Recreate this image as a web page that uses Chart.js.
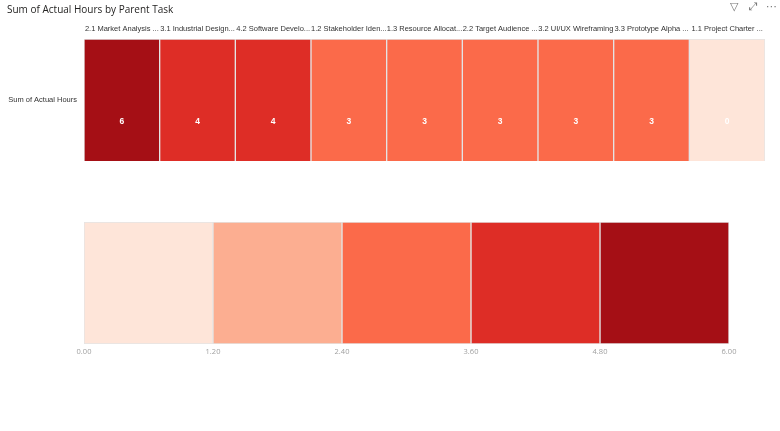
<!DOCTYPE html>
<html>
<head>
    <title>Sum of Actual Hours by Parent Task</title>
    <script src="https://cdn.jsdelivr.net/npm/chart.js"></script>
    <style>
        body { margin: 0; background: #fff; }
        #wrap { position: relative; width: 780px; height: 431px; overflow: hidden; }
        #title { position: absolute; left: 7px; top: 2px; font: 10px "Open Sans", sans-serif; color: #252423; }
        .icon { position: absolute; top: 0px; font: 11px "DejaVu Sans", sans-serif; color: #777; }
        .box { position: absolute; left: 0; top: 0; width: 780px; height: 431px; }
    </style>
</head>
<body>
<div id="wrap">
    <div class="box"><canvas id="heat"></canvas></div>
    <div class="box"><canvas id="scale"></canvas></div>
    <div id="title">Sum of Actual Hours by Parent Task</div>
    <span class="icon" style="left:730px">▽</span>
    <span class="icon" style="left:749px">⤢</span>
    <span class="icon" style="left:766px">⋯</span>
</div>
<script>
    // data
    const tasks = ['2.1 Market Analysis ...', '3.1 Industrial Design...', '4.2 Software Develo...',
        '1.2 Stakeholder Iden...', '1.3 Resource Allocat...', '2.2 Target Audience ...',
        '3.2 UI/UX Wireframing', '3.3 Prototype Alpha ...', '1.1 Project Charter ...'];
    const hours = [6, 4, 4, 3, 3, 3, 3, 3, 0];
    const rowLabel = 'Sum of Actual Hours';
    const binEdges = [0, 1.2, 2.4, 3.6, 4.8, 6];
    const binColors = ['#fee5d9', '#fcae91', '#fb6a4a', '#de2d26', '#a50f15'];

    function colorFor(v) {
        for (let i = 0; i < binColors.length; i++) {
            if (v < binEdges[i + 1] || i === binColors.length - 1) return binColors[i];
        }
    }

    const valueLabels = {
        id: 'valueLabels',
        afterDatasetsDraw(chart) {
            const ctx = chart.ctx;
            const meta = chart.getDatasetMeta(0);
            ctx.save();
            ctx.fillStyle = '#fff';
            ctx.font = 'bold 8.5px "Liberation Sans", Arial, sans-serif';
            ctx.textAlign = 'center';
            ctx.textBaseline = 'middle';
            meta.data.forEach((bar, i) => {
                const top = Math.min(bar.y, bar.base), h = Math.abs(bar.base - bar.y);
                ctx.fillText(String(hours[i]), bar.x, top + h * 0.68);
            });
            ctx.restore();
        }
    };

    Chart.defaults.animation = false;
    Chart.defaults.responsive = true;
    Chart.defaults.maintainAspectRatio = false;

    new Chart(document.getElementById('heat'), {
        type: 'bar',
        data: {
            labels: tasks,
            datasets: [{
                data: hours.map(() => 1),
                backgroundColor: hours.map(colorFor),
                borderColor: '#e4e4e4',
                borderWidth: 1,
                categoryPercentage: 1,
                barPercentage: 1
            }]
        },
        options: {
            layout: { padding: { left: 0, top: 0, right: 15, bottom: 270 } },
            plugins: { legend: { display: false }, tooltip: { enabled: false } },
            scales: {
                x: {
                    position: 'top',
                    grid: { display: false, drawTicks: false },
                    border: { display: false },
                    afterFit(s) { s.height = 39; },
                    ticks: {
                        autoSkip: false, maxRotation: 0, minRotation: 0, padding: 6,
                        color: '#333', font: { size: 7.5, family: '"Liberation Sans", Arial, sans-serif' }
                    }
                },
                y: {
                    min: 0, max: 1,
                    grid: { display: false, drawTicks: false },
                    border: { display: false },
                    afterFit(s) { s.width = 84; },
                    afterBuildTicks(s) { s.ticks = [{ value: 0.5 }]; },
                    ticks: {
                        padding: 7, color: '#333',
                        font: { size: 7.5, family: '"Liberation Sans", Arial, sans-serif' },
                        callback: () => rowLabel
                    }
                }
            }
        },
        plugins: [valueLabels]
    });

    new Chart(document.getElementById('scale'), {
        type: 'bar',
        data: {
            labels: ['range'],
            datasets: binColors.map((c, i) => ({
                data: [[binEdges[i], binEdges[i + 1]]],
                backgroundColor: c,
                borderColor: '#e4e4e4',
                borderWidth: 1,
                borderSkipped: false,
                grouped: false,
                categoryPercentage: 1,
                barPercentage: 1
            }))
        },
        options: {
            indexAxis: 'y',
            layout: { padding: { left: 84, top: 222, right: 51, bottom: 0 } },
            plugins: { legend: { display: false }, tooltip: { enabled: false } },
            scales: {
                x: {
                    type: 'linear', min: 0, max: 6,
                    grid: { display: false, drawTicks: false },
                    border: { display: false },
                    afterFit(s) { s.height = 87; },
                    afterBuildTicks(s) { s.ticks = binEdges.map(v => ({ value: v })); },
                    ticks: {
                        padding: 3, color: '#a0a0a0',
                        font: { size: 7.5, family: '"Open Sans", sans-serif' },
                        callback: v => Number(v).toFixed(2)
                    }
                },
                y: { display: false }
            }
        }
    });
</script>
</body>
</html>
